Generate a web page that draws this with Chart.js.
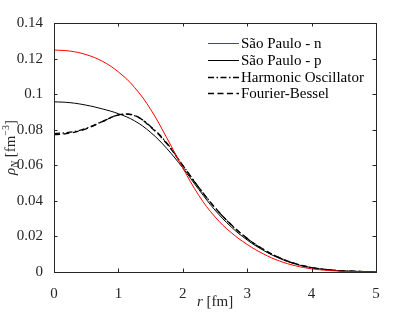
<!DOCTYPE html>
<html>
<head>
<meta charset="utf-8">
<script src="https://cdn.jsdelivr.net/npm/chart.js@4.4.1/dist/chart.umd.min.js"></script>
</head>
<body style="margin:0;background:#fff">
<canvas id="densityChart" width="415" height="312"></canvas>
<script>
// r in fm
const radius = [0, 0.25, 0.5, 0.75, 1, 1.25, 1.5, 1.75, 2, 2.25, 2.5, 2.75, 3, 3.25, 3.5, 3.75, 4, 4.25, 4.5, 4.75, 5];

// densities in fm^-3
const saoPauloN = [0.1248, 0.1242, 0.1222, 0.1185, 0.1125, 0.1038, 0.0915, 0.0755, 0.0585, 0.0430, 0.0310, 0.0222, 0.0155, 0.0102, 0.0062, 0.0035, 0.0018, 0.0009, 0.0004, 0.0002, 0.0001];
const saoPauloP = [0.0957, 0.0952, 0.0938, 0.0917, 0.0890, 0.0850, 0.0785, 0.0695, 0.0585, 0.0463, 0.0348, 0.0254, 0.0180, 0.0122, 0.0077, 0.0045, 0.0024, 0.0012, 0.0006, 0.0003, 0.0001];
const harmOsc = [0.0778, 0.0786, 0.0808, 0.0846, 0.0882, 0.0879, 0.0818, 0.0726, 0.0600, 0.0475, 0.0362, 0.0266, 0.0188, 0.0127, 0.0080, 0.0046, 0.0025, 0.0013, 0.0006, 0.0003, 0.0001];
const fourierBessel = [0.0772, 0.0781, 0.0805, 0.0845, 0.0883, 0.0880, 0.0815, 0.0722, 0.0598, 0.0474, 0.0362, 0.0267, 0.0189, 0.0128, 0.0081, 0.0047, 0.0025, 0.0013, 0.0006, 0.0003, 0.0001];

const seriesNames = ['São Paulo - n', 'São Paulo - p', 'Harmonic Oscillator', 'Fourier-Bessel'];
const xTicks = [0, 1, 2, 3, 4, 5];
const yTicks = [0, 0.02, 0.04, 0.06, 0.08, 0.1, 0.12, 0.14];
const yTickLabels = ['0', '0.02', '0.04', '0.06', '0.08', '0.1', '0.12', '0.14'];

const axisColor = '#262626';
const FONT = '15px "Liberation Serif"';
const ITAL = 'italic 15px "Liberation Serif"';
const FONT_SM = '10px "Liberation Serif"';
const ITAL_SM = 'italic 10px "Liberation Serif"';

function toPoints(values) {
    return radius.map((r, i) => ({ x: r, y: values[i] }));
}

// box with inward ticks on all four sides, axis titles and legend
const framePlugin = {
    id: 'frame',
    afterDraw(chart) {
        const ctx = chart.ctx;
        const a = chart.chartArea;
        const xs = chart.scales.x, ys = chart.scales.y;
        ctx.save();
        ctx.strokeStyle = axisColor;
        ctx.lineWidth = 1;
        ctx.strokeRect(a.left + 0.5, a.top + 0.5, a.right - a.left, a.bottom - a.top);

        const tl = 3.5;
        ctx.beginPath();
        xTicks.forEach(v => {
            const px = Math.round(xs.getPixelForValue(v)) + 0.5;
            ctx.moveTo(px, a.bottom); ctx.lineTo(px, a.bottom - tl);
            ctx.moveTo(px, a.top); ctx.lineTo(px, a.top + tl);
        });
        yTicks.forEach(v => {
            const py = Math.round(ys.getPixelForValue(v)) + 0.5;
            ctx.moveTo(a.left, py); ctx.lineTo(a.left + tl, py);
            ctx.moveTo(a.right, py); ctx.lineTo(a.right - tl, py);
        });
        ctx.stroke();

        // x axis title: r [fm]
        ctx.fillStyle = axisColor;
        ctx.textBaseline = 'alphabetic';
        ctx.textAlign = 'left';
        const cx = (a.left + a.right) / 2;
        ctx.font = ITAL;
        const wR = ctx.measureText('r ').width;
        ctx.font = FONT;
        const wFm = ctx.measureText('[fm]').width;
        const x0 = cx - (wR + wFm) / 2;
        ctx.font = ITAL;
        ctx.fillText('r', x0, 306);
        ctx.font = FONT;
        ctx.fillText('[fm]', x0 + wR, 306);

        // y axis title: rho_N [fm^-3], rotated
        ctx.save();
        ctx.translate(15, (a.top + a.bottom) / 2);
        ctx.rotate(-Math.PI / 2);
        const parts = [
            { t: 'ρ', f: ITAL, dy: 0 },
            { t: 'N', f: ITAL_SM, dy: 2.5 },
            { t: ' [fm', f: FONT, dy: 0 },
            { t: '−3', f: FONT_SM, dy: -6 },
            { t: ']', f: FONT, dy: 0 }
        ];
        let total = 0;
        parts.forEach(p => { ctx.font = p.f; p.w = ctx.measureText(p.t).width; total += p.w; });
        let px = -total / 2;
        parts.forEach(p => { ctx.font = p.f; ctx.fillText(p.t, px, p.dy); px += p.w; });
        ctx.restore();

        // legend in the upper right of the plot
        const lx = 208, lw = 31, rowY = [43, 60, 77, 93];
        chart.data.datasets.forEach((ds, i) => {
            const y = rowY[i] + 0.5;
            ctx.beginPath();
            ctx.strokeStyle = ds.borderColor;
            ctx.lineWidth = ds.borderWidth;
            ctx.setLineDash(ds.borderDash || []);
            ctx.moveTo(lx, y); ctx.lineTo(lx + lw, y);
            ctx.stroke();
            ctx.setLineDash([]);
            ctx.fillStyle = '#000';
            ctx.font = FONT;
            ctx.textBaseline = 'middle';
            ctx.fillText(ds.label, lx + lw + 2, rowY[i] + 1);
        });
        ctx.restore();
    }
};

new Chart(document.getElementById('densityChart'), {
    type: 'scatter',
    data: {
        datasets: [
            { label: seriesNames[0], data: toPoints(saoPauloN), borderColor: '#ff0000', borderWidth: 1 },
            { label: seriesNames[1], data: toPoints(saoPauloP), borderColor: '#000000', borderWidth: 1 },
            { label: seriesNames[2], data: toPoints(harmOsc), borderColor: '#000000', borderWidth: 1.3, borderDash: [6, 2.5, 1.5, 2.5] },
            { label: seriesNames[3], data: toPoints(fourierBessel), borderColor: '#000000', borderWidth: 1.3, borderDash: [6, 3.5] }
        ].map(ds => Object.assign(ds, {
            showLine: true,
            pointRadius: 0,
            pointHoverRadius: 0,
            tension: 0.4,
            fill: false
        }))
    },
    options: {
        responsive: false,
        animation: false,
        layout: { padding: { left: 0, right: 39, top: 23, bottom: 0 } },
        plugins: { legend: { display: false }, tooltip: { enabled: false } },
        scales: {
            x: {
                type: 'linear', min: 0, max: 5,
                afterBuildTicks: s => { s.ticks = xTicks.map(v => ({ value: v })); },
                afterFit: s => { s.height = 40; },
                grid: { display: false },
                border: { display: false },
                ticks: {
                    color: axisColor, padding: 5,
                    font: { family: 'Liberation Serif', size: 15 },
                    callback: v => String(v)
                }
            },
            y: {
                type: 'linear', min: 0, max: 0.14,
                afterBuildTicks: s => { s.ticks = yTicks.map(v => ({ value: v })); },
                afterFit: s => { s.width = 54; },
                grid: { display: false },
                border: { display: false },
                ticks: {
                    color: axisColor, padding: 3,
                    font: { family: 'Liberation Serif', size: 15 },
                    callback: (v, i) => yTickLabels[i]
                }
            }
        }
    },
    plugins: [framePlugin]
});
</script>
</body>
</html>
